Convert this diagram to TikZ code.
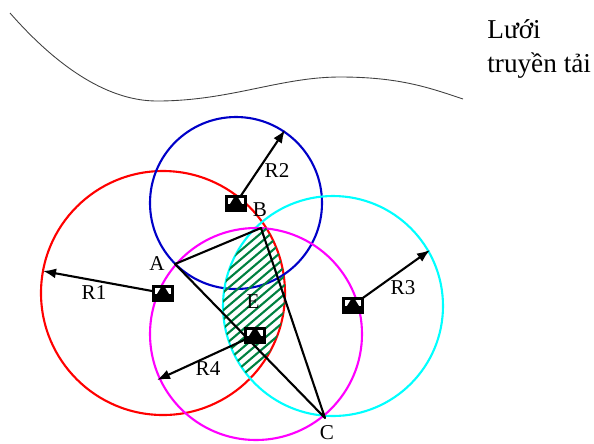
\documentclass[tikz,border=0pt]{standalone}
\usepackage{fontspec}
\setmainfont{Liberation Serif}
\usetikzlibrary{arrows.meta}

\definecolor{hatchgreen}{RGB}{0,128,64}
\definecolor{zoneblue}{RGB}{0,0,200}
\definecolor{zonered}{RGB}{255,0,0}
\definecolor{zonecyan}{RGB}{0,255,255}
\definecolor{zonemagenta}{RGB}{255,0,255}

\begin{document}
\begin{tikzpicture}[x=0.2mm, y=-0.2mm,
    zone/.style={line width=1.2pt},
    radiusarrow/.style={line width=1.2pt, -{Latex[length=2.6mm,width=2mm]}},
    side/.style={line width=1.2pt, line join=round},
    hatch/.style={hatchgreen, line width=1.2pt},
    lbl/.style={font=\fontsize{12}{14}\selectfont, inner sep=0pt},
    station/.style={rectangle, fill=black, minimum width=4.4mm, minimum height=3.4mm, inner sep=0pt,
        path picture={
            \fill[white] ([shift={(0.6mm,-0.6mm)}]path picture bounding box.north west)
                rectangle ([shift={(-0.6mm,-0.2mm)}]path picture bounding box.east);
            \fill[black] ([shift={(-1.2mm,-0.2mm)}]path picture bounding box.center)
                -- ([shift={(1.2mm,-0.2mm)}]path picture bounding box.center)
                -- ([shift={(0.4mm,-0.6mm)}]path picture bounding box.north)
                -- ([shift={(-0.4mm,-0.6mm)}]path picture bounding box.north) -- cycle;
        }}
]
\useasboundingbox (0,0) rectangle (594,443);

% transmission line
\draw[line width=0.5pt, black!75] (10,13) .. controls (60,70) and (110,101) .. (157,101)
    .. controls (230,101) and (280,77) .. (340,77)
    .. controls (400,77) and (430,88) .. (463,99);
\node[anchor=base west, inner sep=0pt, font=\fontsize{15.5}{19}\selectfont] (grid1) at (487,38) {Lưới};
\node[anchor=base west, inner sep=0pt, font=\fontsize{15.5}{19}\selectfont] (grid2) at (487,72) {truyền tải};

% coverage circles
\draw[zone, zonered] (163,293) circle[radius=122];
\draw[zone, zoneblue] (236,203) circle[radius=86];
\draw[zone, zonecyan] (333,306) circle[radius=110];
\draw[zone, zonemagenta] (256,334) circle[radius=106];

% overlap of zone 1 and zone 3
\begin{scope}
    \clip (163,293) circle[radius=122];
    \clip (333,306) circle[radius=110];
    \foreach \k in {0,...,14}
        \draw[hatch] (180,428-\k*9) -- ++(160,-136);
\end{scope}

% stations and ranges
\coordinate (s1) at (163,293);
\coordinate (s2) at (236,203);
\coordinate (s3) at (353,305);
\coordinate (s4) at (255,335);
\coordinate (r1) at (43,271);
\coordinate (r2) at (285,130);
\coordinate (r3) at (430,250);
\coordinate (r4) at (157,380);
\draw[radiusarrow] (s1) -- (r1);
\draw[radiusarrow] (s2) -- (r2);
\draw[radiusarrow] (s3) -- (r3);
\draw[radiusarrow] (s4) -- (r4);

% triangle
\coordinate (A) at (175,264);
\coordinate (B) at (261,228);
\coordinate (C) at (325,418);
\draw[side] (A) -- (B) -- (C) -- cycle;

\node[station] (st1) at (s1) {};
\node[station] (st2) at (s2) {};
\node[station] (st3) at (s3) {};
\node[station] (st4) at (s4) {};

\node[lbl] (labA) at (157,264) {A};
\node[lbl] (labB) at (260,210) {B};
\node[lbl] (labC) at (327,433) {C};
\node[lbl] (labE) at (253,302) {E};
\node[lbl] (labR1) at (94,293) {R1};
\node[lbl] (labR2) at (277,171) {R2};
\node[lbl] (labR3) at (403,288) {R3};
\node[lbl] (labR4) at (208,369) {R4};
\end{tikzpicture}
\end{document}
